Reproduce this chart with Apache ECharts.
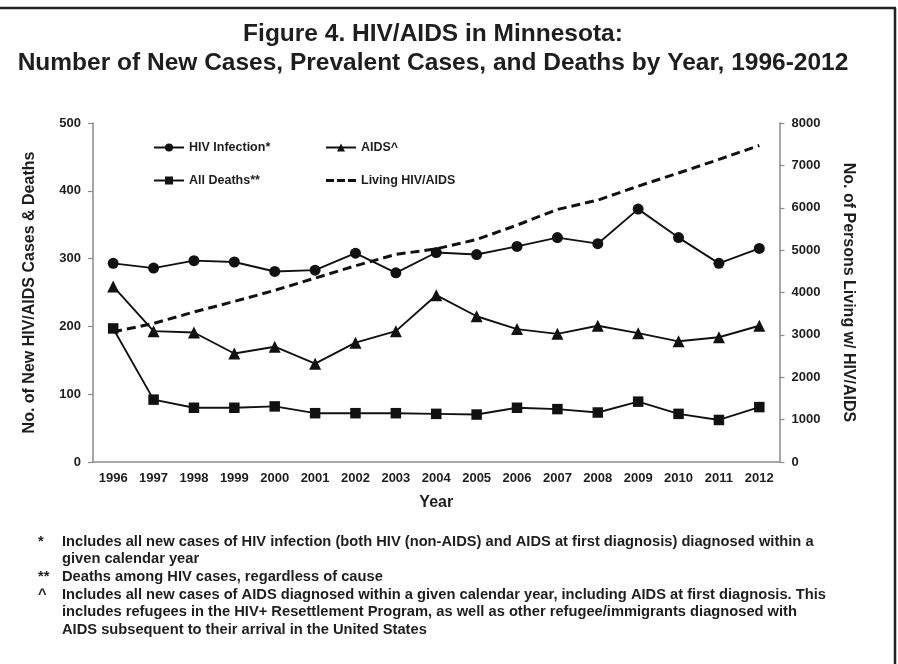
<!DOCTYPE html>
<html>
<head>
<meta charset="utf-8">
<script src="https://cdn.jsdelivr.net/npm/echarts@6/dist/echarts.min.js"></script>
<style>
  html, body { margin: 0; padding: 0; background: #fff; }
  #chart { width: 898px; height: 664px; }
</style>
</head>
<body>
<div id="chart"></div>
<script>
// data
const years = ['1996', '1997', '1998', '1999', '2000', '2001', '2002', '2003', '2004',
  '2005', '2006', '2007', '2008', '2009', '2010', '2011', '2012']
const hivInfection = [293, 286, 297, 295, 281, 283, 308, 279, 309, 306, 318, 331, 322, 373, 331, 293, 315]
const aids = [259, 193, 191, 160, 170, 145, 176, 193, 246, 215, 196, 189, 201, 190, 178, 184, 201]
const allDeaths = [197, 92, 80, 80, 82, 72, 72, 72, 71, 70, 80, 78, 73, 89, 71, 62, 81]
const livingHivAids = [3070, 3270, 3540, 3790, 4050, 4340, 4630, 4900, 5030, 5250, 5590, 5960, 6180, 6510, 6820, 7140, 7470]

const footnoteMarks = ['*', '', '**', '^', '', '']
const footnoteLines = [
  'Includes all new cases of HIV infection (both HIV (non-AIDS) and AIDS at first diagnosis) diagnosed within a',
  'given calendar year',
  'Deaths among HIV cases, regardless of cause',
  'Includes all new cases of AIDS diagnosed within a given calendar year, including AIDS at first diagnosis. This',
  'includes refugees in the HIV+ Resettlement Program, as well as other refugee/immigrants diagnosed with',
  'AIDS subsequent to their arrival in the United States',
]

const FONT = 'Arial, "Liberation Sans", Helvetica, sans-serif'
const INK = '#1e1e1e'
const AXIS = '#8a8a8a'

const chart = echarts.init(document.getElementById('chart'))

const axisText = { color: INK, fontWeight: 'bold', fontSize: 13, fontFamily: FONT }
const nameText = { color: INK, fontWeight: 'bold', fontSize: 16, fontFamily: FONT }
const legendText = { color: INK, fontWeight: 'bold', fontSize: 12.5, fontFamily: FONT }

const lineBase = {
  type: 'line',
  color: '#111',
  lineStyle: { color: '#111', width: 1.9 },
  itemStyle: { color: '#111' },
  animation: false,
}

// three short dashes for the legend of the dashed series
const dashIcon = 'path://M0,0h8v3h-8z M11,0h8v3h-8z M22,0h8v3h-8z'

chart.setOption({
  backgroundColor: '#fff',
  animation: false,
  grid: { left: 93, top: 123, right: 118.5, bottom: 202 },
  legend: [
    {
      data: ['HIV Infection*', 'All Deaths**'],
      orient: 'vertical', left: 148, top: 136,
      itemWidth: 30, itemHeight: 10, itemGap: 20,
      textStyle: legendText,
    },
    {
      data: ['AIDS^', { name: 'Living HIV/AIDS', icon: dashIcon }],
      orient: 'vertical', left: 320, top: 136,
      itemWidth: 30, itemHeight: 10, itemGap: 20,
      textStyle: legendText,
    },
  ],
  xAxis: {
    type: 'category',
    data: years,
    boundaryGap: true,
    name: 'Year',
    nameLocation: 'middle',
    nameGap: 33,
    nameTextStyle: nameText,
    axisLine: { lineStyle: { color: AXIS, width: 1.5 } },
    axisTick: { length: 5, lineStyle: { color: AXIS, width: 1.2 } },
    axisLabel: Object.assign({ margin: 10, interval: 0 }, axisText),
    splitLine: { show: false },
  },
  yAxis: [
    {
      type: 'value',
      min: 0, max: 500, interval: 100,
      name: 'No. of New HIV/AIDS Cases & Deaths',
      nameLocation: 'middle',
      nameRotate: 90,
      nameGap: 55,
      nameTextStyle: nameText,
      axisLine: { show: true, lineStyle: { color: AXIS, width: 1.5 } },
      axisTick: { show: true, length: 5, lineStyle: { color: AXIS, width: 1.2 } },
      axisLabel: Object.assign({ margin: 12 }, axisText),
      splitLine: { show: false },
    },
    {
      type: 'value',
      min: 0, max: 8000, interval: 1000,
      position: 'right',
      name: 'No. of Persons Living w/ HIV/AIDS',
      nameLocation: 'middle',
      nameRotate: -90,
      nameGap: 61,
      nameTextStyle: nameText,
      axisLine: { show: true, lineStyle: { color: AXIS, width: 1.5 } },
      axisTick: { show: true, length: 5, lineStyle: { color: AXIS, width: 1.2 } },
      axisLabel: Object.assign({ margin: 12, formatter: v => String(v) }, axisText),
      splitLine: { show: false },
    },
  ],
  series: [
    Object.assign({}, lineBase, {
      name: 'Living HIV/AIDS',
      yAxisIndex: 1,
      data: livingHivAids,
      symbol: 'none',
      lineStyle: { color: '#111', width: 3, type: [9, 5] },
      z: 1,
    }),
    Object.assign({}, lineBase, {
      name: 'HIV Infection*',
      data: hivInfection,
      symbol: 'circle',
      symbolSize: 11,
      z: 3,
    }),
    Object.assign({}, lineBase, {
      name: 'AIDS^',
      data: aids,
      symbol: 'triangle',
      symbolSize: 12,
      z: 3,
    }),
    Object.assign({}, lineBase, {
      name: 'All Deaths**',
      data: allDeaths,
      symbol: 'rect',
      symbolSize: 10.5,
      z: 3,
    }),
  ],
  graphic: [
    // frame: top and right rules
    { type: 'line', shape: { x1: 0, y1: 8, x2: 896, y2: 8 }, style: { stroke: '#222', lineWidth: 2.5 } },
    { type: 'line', shape: { x1: 895, y1: 8, x2: 895, y2: 664 }, style: { stroke: '#222', lineWidth: 2.5 } },
    {
      type: 'text', x: 433, y: 34,
      style: {
        text: 'Figure 4. HIV/AIDS in Minnesota:',
        fill: INK, font: 'bold 24.5px ' + FONT, align: 'center', verticalAlign: 'middle',
      },
    },
    {
      type: 'text', x: 433, y: 63.5,
      style: {
        text: 'Number of New Cases, Prevalent Cases, and Deaths by Year, 1996-2012',
        fill: INK, font: 'bold 24.5px ' + FONT, align: 'center', verticalAlign: 'middle',
      },
    },
    {
      type: 'text', x: 38, y: 533,
      style: {
        text: footnoteMarks.join('\n'),
        fill: INK, font: 'bold 14.7px ' + FONT, lineHeight: 17.6, verticalAlign: 'top',
      },
    },
    {
      type: 'text', x: 62, y: 533,
      style: {
        text: footnoteLines.join('\n'),
        fill: INK, font: 'bold 14.7px ' + FONT, lineHeight: 17.6, verticalAlign: 'top',
      },
    },
  ],
})
</script>
</body>
</html>
